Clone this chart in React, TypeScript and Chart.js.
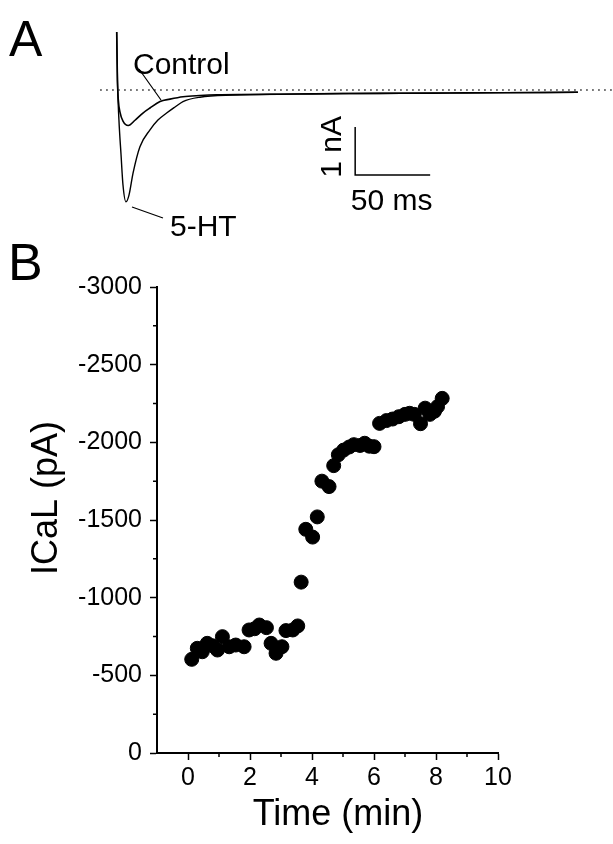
import React, { useEffect, useRef } from "react";
import { Chart, registerables } from "chart.js";
Chart.register(...registerables);

const FONT = "'Liberation Sans', Arial, Helvetica, sans-serif";

// ---------- Panel A: current traces (time in ms, current in nA) ----------
const controlTimeMs = [0, 0.5, 1.1, 2.2, 4.2, 7.7, 12.2, 17.5, 22.2, 28.9, 35.5, 44.2, 55.5, 66.7, 88.9, 122, 155.5, 189, 222, 255.5, 307.5];
const controlCurrentNA = [1.21, 0.21, -0.21, -0.46, -0.65, -0.74, -0.63, -0.48, -0.375, -0.24, -0.19, -0.14, -0.115, -0.1, -0.094, -0.083, -0.073, -0.069, -0.0625, -0.056, -0.048];
const htTimeMs = [0, 0.5, 1.5, 2.9, 4.2, 6.2, 8.2, 10.9, 15.5, 22.2, 27.5, 33.3, 38.9, 44.2, 55.5, 77.5, 110, 160, 210, 260, 307.5];
const htCurrentNA = [1.21, 0.21, -0.625, -1.35, -1.98, -2.33, -2.19, -1.73, -1.18, -0.83, -0.625, -0.48, -0.354, -0.24, -0.15, -0.104, -0.085, -0.072, -0.064, -0.055, -0.048];
const baselineTimeMs = [-11, 331];
const baselineCurrentNA = [0, 0];
const scaleBarMs = 50;
const scaleBarNA = 1;

// ---------- Panel B: ICaL time course ----------
const timeMin = [0.12, 0.3, 0.46, 0.62, 0.8, 0.95, 1.11, 1.33, 1.54, 1.81, 1.97, 2.15, 2.3, 2.53, 2.68, 2.84, 3.03, 3.16, 3.38, 3.54, 3.65, 3.8, 4.02, 4.17, 4.32, 4.55, 4.7, 4.85, 5.02, 5.2, 5.35, 5.55, 5.7, 5.85, 6.0, 6.18, 6.4, 6.6, 6.8, 7.0, 7.15, 7.3, 7.5, 7.65, 7.8, 7.95, 8.05, 8.2];
const icalPA = [-603, -674, -652, -706, -690, -663, -749, -684, -695, -684, -792, -800, -824, -807, -706, -642, -684, -788, -792, -818, -1100, -1440, -1390, -1520, -1750, -1715, -1850, -1920, -1950, -1970, -1985, -1980, -1994, -1975, -1972, -2122, -2140, -2150, -2165, -2180, -2187, -2180, -2120, -2220, -2180, -2200, -2230, -2283];
const xTicks = [0, 2, 4, 6, 8, 10];
const yTicks = [0, -500, -1000, -1500, -2000, -2500, -3000];

const zip = (xs: number[], ys: number[]) => xs.map((x, i) => ({ x, y: ys[i] }));

export default function App() {
  const refA = useRef<HTMLCanvasElement>(null);
  const refB = useRef<HTMLCanvasElement>(null);

  useEffect(() => {
    const barOrigin = { t: 159, i: -1.77 };
    const panelAText = {
      id: "panelAText",
      afterDraw(chart: any) {
        const ctx = chart.ctx;
        const xs = chart.scales.x, ys = chart.scales.y;
        ctx.save();
        ctx.fillStyle = "#000";
        ctx.strokeStyle = "#000";
        ctx.textBaseline = "middle";
        ctx.font = `50px ${FONT}`;
        ctx.textAlign = "left";
        ctx.fillText("A", 9, 42);
        ctx.font = `30px ${FONT}`;
        ctx.fillText("Control", 133, 66);
        ctx.fillText("5-HT", 170, 228);
        ctx.lineWidth = 1.2;
        ctx.beginPath();
        ctx.moveTo(139, 69);
        ctx.lineTo(161, 100);
        ctx.moveTo(132, 207);
        ctx.lineTo(163, 218);
        ctx.stroke();
        // scale bar labels
        const bx = xs.getPixelForValue(barOrigin.t);
        const by = ys.getPixelForValue(barOrigin.i);
        const byTop = ys.getPixelForValue(barOrigin.i + scaleBarNA);
        const bxR = xs.getPixelForValue(barOrigin.t + scaleBarMs);
        ctx.textAlign = "center";
        ctx.fillText(`${scaleBarMs} ms`, (bx + bxR) / 2 - 1, by + 27);
        ctx.save();
        ctx.translate(bx - 22, (by + byTop) / 2 - 4);
        ctx.rotate(-Math.PI / 2);
        ctx.fillText(`${scaleBarNA} nA`, 0, 0);
        ctx.restore();
        ctx.restore();
      },
    };

    const chartA = new Chart(refA.current!, {
      type: "line",
      data: {
        datasets: [
          { data: zip(baselineTimeMs, baselineCurrentNA), borderColor: "#222", borderWidth: 1.5, borderDash: [1.5, 4.5], pointRadius: 0 },
          { data: zip(controlTimeMs, controlCurrentNA), borderColor: "#000", borderWidth: 1.6, pointRadius: 0, cubicInterpolationMode: "monotone" },
          { data: zip(htTimeMs, htCurrentNA), borderColor: "#000", borderWidth: 1.4, pointRadius: 0, cubicInterpolationMode: "monotone" },
          {
            data: [
              { x: barOrigin.t, y: barOrigin.i + scaleBarNA },
              { x: barOrigin.t, y: barOrigin.i },
              { x: barOrigin.t + scaleBarMs, y: barOrigin.i },
            ],
            borderColor: "#000", borderWidth: 1.5, pointRadius: 0, tension: 0,
          },
        ],
      },
      options: {
        responsive: false,
        animation: false,
        layout: { padding: 0 },
        scales: {
          x: { type: "linear", display: false, min: -77.8, max: 330.9 },
          y: { type: "linear", display: false, min: -3.333, max: 1.875 },
        },
        plugins: { legend: { display: false }, tooltip: { enabled: false } },
      },
      plugins: [panelAText],
    } as any);

    const panelBExtras = {
      id: "panelBExtras",
      afterDraw(chart: any) {
        const ctx = chart.ctx;
        const xs = chart.scales.x, ys = chart.scales.y;
        const area = chart.chartArea;
        ctx.save();
        ctx.strokeStyle = "#000";
        ctx.lineWidth = 1.5;
        ctx.beginPath();
        for (let i = 0; i < xTicks.length - 1; i++) {
          const px = xs.getPixelForValue((xTicks[i] + xTicks[i + 1]) / 2);
          ctx.moveTo(px, area.bottom);
          ctx.lineTo(px, area.bottom + 4);
        }
        for (let i = 0; i < yTicks.length - 1; i++) {
          const py = ys.getPixelForValue((yTicks[i] + yTicks[i + 1]) / 2);
          ctx.moveTo(area.left, py);
          ctx.lineTo(area.left - 4, py);
        }
        ctx.stroke();
        ctx.fillStyle = "#000";
        ctx.textBaseline = "middle";
        ctx.textAlign = "left";
        ctx.font = `52px ${FONT}`;
        ctx.fillText("B", 8, 36);
        ctx.font = `36px ${FONT}`;
        ctx.textAlign = "center";
        ctx.fillText("Time (min)", 338, 585);
        ctx.save();
        ctx.translate(47, 268);
        ctx.rotate(-Math.PI / 2);
        ctx.fillText("ICaL (pA)", 0, 0);
        ctx.restore();
        ctx.restore();
      },
    };

    const tickFont = { family: FONT, size: 25 };
    const chartB = new Chart(refB.current!, {
      type: "scatter",
      data: {
        datasets: [
          {
            data: zip(timeMin, icalPA),
            backgroundColor: "#000",
            borderColor: "#000",
            borderWidth: 1,
            pointRadius: 7,
          },
        ],
      },
      options: {
        responsive: false,
        animation: false,
        layout: { padding: { left: 0, right: 115, top: 57, bottom: 0 } },
        scales: {
          x: {
            type: "linear",
            min: -1,
            max: 10,
            afterBuildTicks: (s: any) => { s.ticks = xTicks.map((v) => ({ value: v })); },
            afterFit: (s: any) => { s.height = 91; },
            grid: { drawOnChartArea: false, drawTicks: true, tickLength: 7, tickWidth: 1.5, tickColor: "#000" },
            border: { display: true, color: "#000", width: 2 },
            ticks: { color: "#000", font: tickFont, padding: 3, maxRotation: 0, autoSkip: false, callback: (v: any) => String(v) },
          },
          y: {
            type: "linear",
            min: -3000,
            max: 0,
            reverse: true,
            afterBuildTicks: (s: any) => { s.ticks = yTicks.map((v) => ({ value: v })); },
            afterFit: (s: any) => { s.width = 157; },
            grid: { drawOnChartArea: false, drawTicks: true, tickLength: 7, tickWidth: 1.5, tickColor: "#000" },
            border: { display: true, color: "#000", width: 2 },
            ticks: { color: "#000", font: tickFont, padding: 8, autoSkip: false, callback: (v: any) => String(v) },
          },
        },
        plugins: { legend: { display: false }, tooltip: { enabled: false } },
      },
      plugins: [panelBExtras],
    } as any);

    return () => {
      chartA.destroy();
      chartB.destroy();
    };
  }, []);

  return (
    <div style={{ position: "absolute", left: 0, top: 0, width: 613, height: 844, background: "#fff" }}>
      <canvas ref={refA} width={613} height={250} style={{ position: "absolute", left: 0, top: 0, width: 613, height: 250 }} />
      <canvas ref={refB} width={613} height={614} style={{ position: "absolute", left: 0, top: 230, width: 613, height: 614 }} />
    </div>
  );
}
